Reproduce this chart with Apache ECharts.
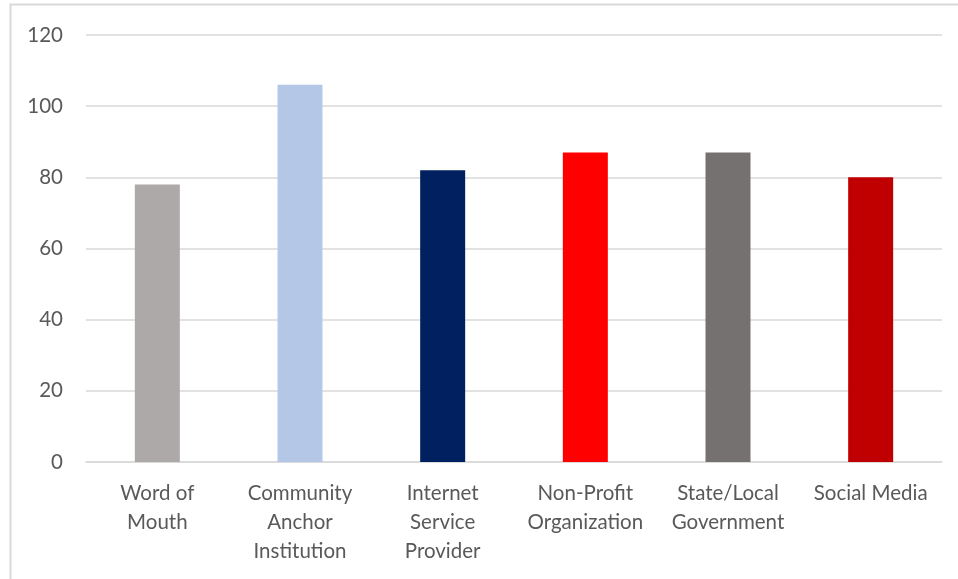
<!DOCTYPE html>
<html>
<head>
<meta charset="utf-8">
<style>
  html, body { margin: 0; padding: 0; background: #fff; }
  #chart { width: 958px; height: 579px; }
</style>
<script src="https://cdn.jsdelivr.net/npm/echarts@6/dist/echarts.min.js"></script>
</head>
<body>
<div id="chart"></div>
<script>
// Outreach channels and their counts
const categories = [
  'Word of\nMouth',
  'Community\nAnchor\nInstitution',
  'Internet\nService\nProvider',
  'Non-Profit\nOrganization',
  'State/Local\nGovernment',
  'Social Media'
];
const counts = [78, 106, 82, 87, 87, 80];
const barColors = ['#ADA9A8', '#B4C7E7', '#002060', '#FF0000', '#767171', '#C00000'];
const yTicks = { min: 0, max: 120, interval: 20 };

const chart = echarts.init(document.getElementById('chart'), null, { renderer: 'canvas' });
const font = 'Lato, "Open Sans", sans-serif';

chart.setOption({
  animation: false,
  backgroundColor: '#fff',
  graphic: [{
    type: 'polyline',
    shape: { points: [[10.5, 600], [10.5, 4.5], [980, 4.5]] },
    style: { stroke: '#D9D9D9', lineWidth: 2, fill: null },
    silent: true
  }],
  grid: { left: 86, right: 16, top: 35, bottom: 117, containLabel: false },
  xAxis: {
    type: 'category',
    data: categories,
    axisLine: { show: true, lineStyle: { color: '#D9D9D9', width: 1.5 } },
    axisTick: { show: false },
    axisLabel: {
      color: '#595959', fontFamily: font, fontSize: 20.5, lineHeight: 29,
      margin: 17, interval: 0
    }
  },
  yAxis: {
    type: 'value',
    min: yTicks.min, max: yTicks.max, interval: yTicks.interval,
    axisLine: { show: false },
    axisTick: { show: false },
    splitLine: { lineStyle: { color: '#D9D9D9', width: 1.5 } },
    axisLabel: { color: '#595959', fontFamily: font, fontSize: 20.5, margin: 23 }
  },
  series: [{
    type: 'bar',
    data: counts.map((v, i) => ({ value: v, itemStyle: { color: barColors[i] } })),
    barWidth: 45
  }]
});
</script>
</body>
</html>
